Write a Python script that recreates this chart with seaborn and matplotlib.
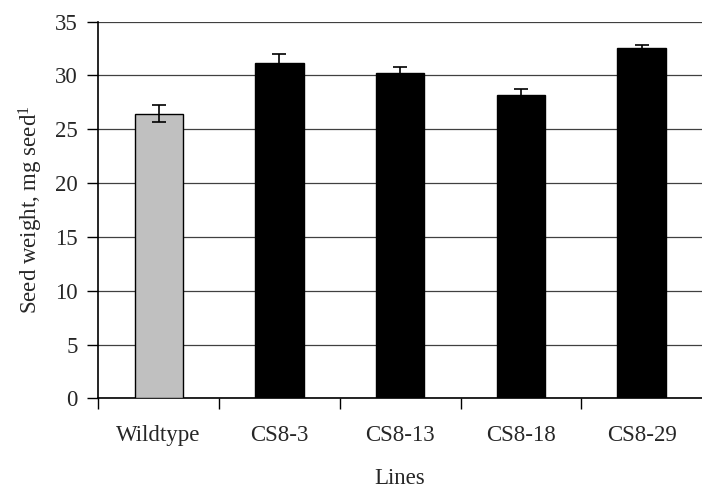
import numpy as np
import pandas as pd
import matplotlib
matplotlib.use('Agg')
import matplotlib.pyplot as plt
import seaborn as sns

# data
lines = ['Wildtype', 'CS8-3', 'CS8-13', 'CS8-18', 'CS8-29']
seed_weight = [26.45, 31.15, 30.2, 28.15, 32.6]
seed_err = [0.8, 0.85, 0.55, 0.55, 0.2]
bar_colors = ['#c0c0c0', '#000000', '#000000', '#000000', '#000000']

df = pd.DataFrame({'line': lines, 'weight': seed_weight, 'err': seed_err})

sns.set_theme(style='white')
plt.rcParams['font.family'] = ['Liberation Serif', 'DejaVu Serif']
plt.rcParams['mathtext.fontset'] = 'custom'
plt.rcParams['mathtext.rm'] = 'Liberation Serif'

fig, ax = plt.subplots(figsize=(7.02, 4.93), dpi=100)
fig.subplots_adjust(left=0.14, right=1.0, top=0.956, bottom=0.192)

sns.barplot(data=df, x='line', y='weight', hue='line', palette=bar_colors,
            width=0.4, edgecolor='black', linewidth=1.0, legend=False,
            errorbar=None, ax=ax, zorder=3)
ax.errorbar(np.arange(len(lines)), df['weight'], yerr=df['err'], fmt='none',
            ecolor='black', elinewidth=1.2, capsize=5, capthick=1.2, zorder=4)

ax.set_ylim(0, 35)
ax.set_xlim(-0.5, len(lines) - 0.5)
ax.set_yticks(range(0, 36, 5))
ax.yaxis.grid(True, color='#404040', linewidth=0.9, zorder=0)
ax.set_axisbelow(True)

# category boundary ticks on the x axis
ax.set_xticks(np.arange(len(lines)) - 0.5, minor=True)
ax.tick_params(axis='x', which='minor', direction='out', length=8, width=1, color='black', bottom=True)
ax.tick_params(axis='x', which='major', length=0, pad=19, labelsize=16.5)
ax.tick_params(axis='y', direction='out', length=8, width=1, color='black', left=True, labelsize=16.5, pad=7)

for side in ['top', 'right']:
    ax.spines[side].set_visible(False)
for side in ['left', 'bottom']:
    ax.spines[side].set_color('black')
    ax.spines[side].set_linewidth(1.2)

ax.set_xlabel('Lines', fontsize=16.5, labelpad=16)
ax.set_ylabel('Seed weight, mg seed$\\mathregular{^{1}}$', fontsize=16.5, labelpad=7)

fig.savefig('out.png', dpi=100)
